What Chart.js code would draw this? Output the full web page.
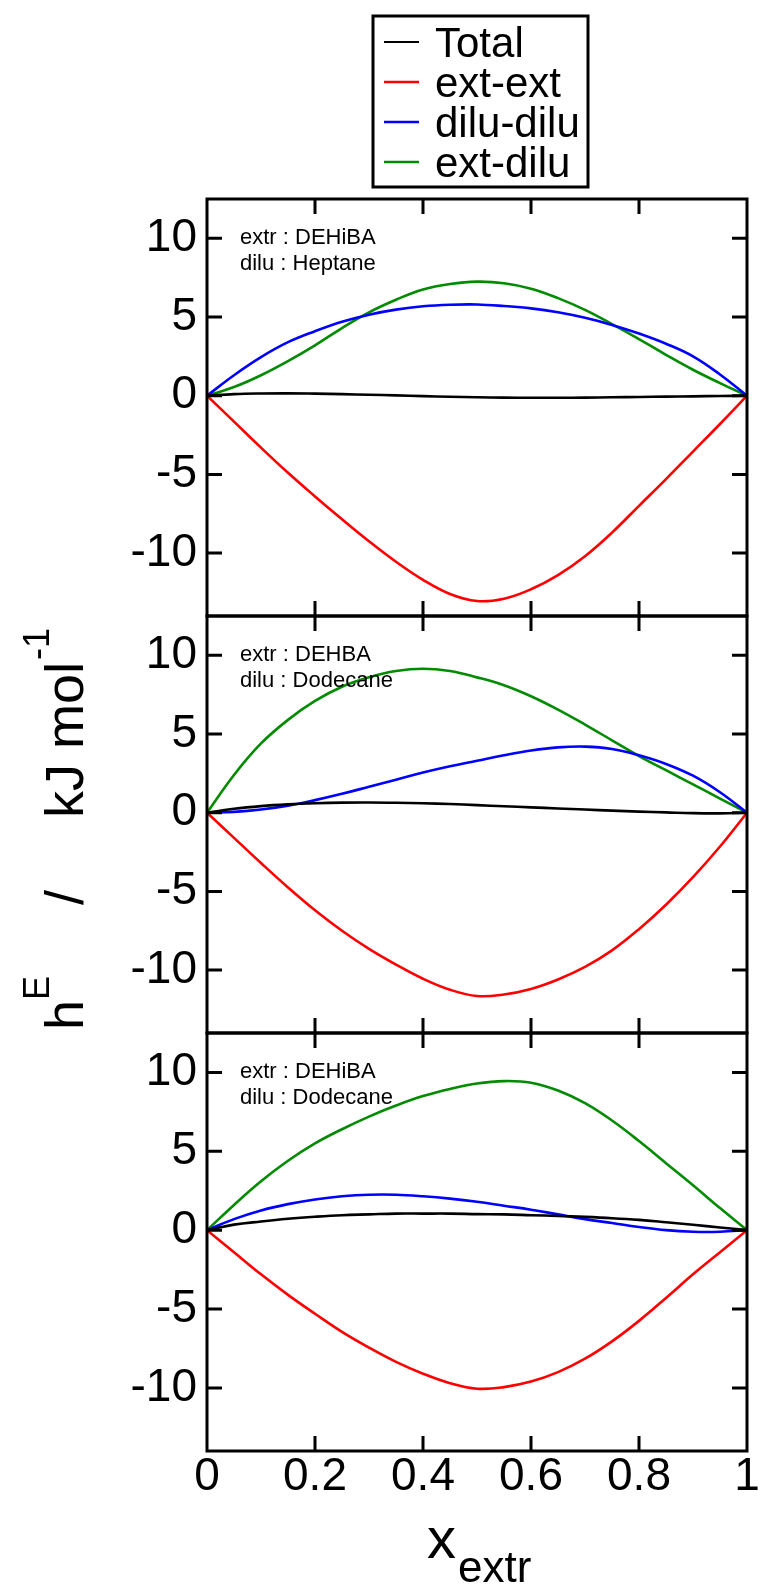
<!DOCTYPE html>
<html>
<head>
<meta charset="utf-8">
<script src="https://cdn.jsdelivr.net/npm/chart.js@4.4.1/dist/chart.umd.min.js"></script>
<style>
  html, body { margin: 0; padding: 0; background: #fff; }
  #wrap { position: relative; width: 758px; height: 1586px; }
  #wrap canvas { position: absolute; left: 0; top: 0; }
</style>
</head>
<body>
<div id="wrap">
  <canvas id="p1" width="758" height="1586"></canvas>
  <canvas id="p2" width="758" height="1586"></canvas>
  <canvas id="p3" width="758" height="1586"></canvas>
</div>
<script>
// h^E of extractant/diluent mixtures, three stacked panels sharing x_extr

const FONT = '"Liberation Sans", Arial, Helvetica, sans-serif';

const xs = [0, 0.05, 0.1, 0.15, 0.2, 0.25, 0.3, 0.35, 0.4, 0.45, 0.5,
            0.55, 0.6, 0.65, 0.7, 0.75, 0.8, 0.85, 0.9, 0.95, 1];

const seriesNames = ['Total', 'ext-ext', 'dilu-dilu', 'ext-dilu'];
const seriesColors = ['#000000', '#ff0000', '#0000ff', '#008b00'];

const xTicks = [0, 0.2, 0.4, 0.6, 0.8, 1];
const xTickLabels = ['0', '0.2', '0.4', '0.6', '0.8', '1'];
const yTicks = [-10, -5, 0, 5, 10];
const yTickLabels = ['-10', '-5', '0', '5', '10'];
const yMin = -14;
const yMax = 12.5;

// panel 1 : DEHiBA / Heptane
const notes1 = ['extr : DEHiBA', 'dilu : Heptane'];
const total1 = [0, 0.1, 0.14, 0.15, 0.13, 0.1, 0.06, 0.02, -0.03, -0.07, -0.1,
                -0.12, -0.13, -0.13, -0.12, -0.1, -0.08, -0.06, -0.04, -0.02, 0];
const extExt1 = [0, -1.65, -3.3, -4.9, -6.4, -7.85, -9.25, -10.55, -11.7, -12.6, -13.05,
                 -12.9, -12.3, -11.4, -10.2, -8.7, -7.0, -5.3, -3.55, -1.8, 0];
const diluDilu1 = [0, 1.3, 2.45, 3.4, 4.1, 4.7, 5.15, 5.47, 5.68, 5.78, 5.8,
                   5.7, 5.55, 5.3, 4.95, 4.5, 3.95, 3.3, 2.5, 1.35, 0];
const extDilu1 = [0, 0.55, 1.3, 2.2, 3.2, 4.3, 5.3, 6.1, 6.75, 7.1, 7.25,
                  7.15, 6.8, 6.2, 5.45, 4.55, 3.6, 2.6, 1.65, 0.8, 0];

// panel 2 : DEHBA / Dodecane
const notes2 = ['extr : DEHBA', 'dilu : Dodecane'];
const total2 = [0, 0.25, 0.42, 0.53, 0.6, 0.64, 0.65, 0.63, 0.6, 0.55, 0.48,
                0.41, 0.34, 0.27, 0.2, 0.13, 0.07, 0.02, -0.03, -0.04, 0];
const extExt2 = [0, -1.6, -3.2, -4.75, -6.2, -7.5, -8.65, -9.65, -10.55, -11.25, -11.65,
                 -11.55, -11.2, -10.6, -9.8, -8.75, -7.4, -5.85, -4.1, -2.15, 0];
const diluDilu2 = [0, 0.05, 0.2, 0.45, 0.8, 1.2, 1.65, 2.1, 2.55, 2.95, 3.3,
                   3.65, 3.95, 4.15, 4.2, 4.05, 3.65, 3.1, 2.35, 1.3, 0];
const extDilu2 = [0, 2.4, 4.4, 5.9, 7.1, 8.0, 8.6, 9.0, 9.15, 9.0, 8.6,
                  8.1, 7.4, 6.55, 5.6, 4.6, 3.6, 2.7, 1.8, 0.9, 0];

// panel 3 : DEHiBA / Dodecane
const notes3 = ['extr : DEHiBA', 'dilu : Dodecane'];
const total3 = [0, 0.35, 0.55, 0.72, 0.85, 0.95, 1.0, 1.05, 1.05, 1.05, 1.02,
                1.0, 0.95, 0.9, 0.84, 0.76, 0.65, 0.5, 0.34, 0.17, 0];
const extExt3 = [0, -1.4, -2.8, -4.1, -5.3, -6.45, -7.45, -8.35, -9.1, -9.7, -10.05,
                 -9.95, -9.6, -9.0, -8.15, -7.05, -5.75, -4.3, -2.8, -1.4, 0];
const diluDilu3 = [0, 0.7, 1.25, 1.65, 1.95, 2.15, 2.25, 2.25, 2.15, 2.0, 1.8,
                   1.55, 1.3, 1.0, 0.7, 0.45, 0.2, 0.0, -0.1, -0.1, 0];
const extDilu3 = [0, 1.6, 3.1, 4.4, 5.5, 6.4, 7.2, 7.9, 8.5, 8.95, 9.3,
                  9.45, 9.35, 8.85, 8.05, 6.95, 5.65, 4.25, 2.85, 1.4, 0];

const panels = [
  { id: 'p1', notes: notes1, series: [total1, extExt1, diluDilu1, extDilu1] },
  { id: 'p2', notes: notes2, series: [total2, extExt2, diluDilu2, extDilu2] },
  { id: 'p3', notes: notes3, series: [total3, extExt3, diluDilu3, extDilu3] },
];

// page geometry
const W = 758, H = 1586;
const AREA_LEFT = 207, AREA_RIGHT = 747;
const EDGES = [199, 616, 1033, 1451];
const TICK = 15;

const framePlugin = {
  id: 'frame',
  afterDatasetsDraw(chart) {
    const { ctx, chartArea: a } = chart;
    const sx = chart.scales.x, sy = chart.scales.y;
    ctx.save();
    ctx.strokeStyle = '#000';
    ctx.lineWidth = 3;
    ctx.strokeRect(a.left, a.top, a.right - a.left, a.bottom - a.top);
    ctx.beginPath();
    xTicks.slice(1, -1).forEach((v) => {
      const px = sx.getPixelForValue(v);
      ctx.moveTo(px, a.top); ctx.lineTo(px, a.top + TICK);
      ctx.moveTo(px, a.bottom); ctx.lineTo(px, a.bottom - TICK);
    });
    yTicks.forEach((v) => {
      const py = sy.getPixelForValue(v);
      ctx.moveTo(a.left, py); ctx.lineTo(a.left + TICK, py);
      ctx.moveTo(a.right, py); ctx.lineTo(a.right - TICK, py);
    });
    ctx.stroke();
    ctx.restore();
  },
};

const notesPlugin = {
  id: 'notes',
  afterDraw(chart, args, opts) {
    const { ctx, chartArea: a } = chart;
    ctx.save();
    ctx.fillStyle = '#000';
    ctx.font = `22px ${FONT}`;
    ctx.textBaseline = 'alphabetic';
    (opts.lines || []).forEach((t, i) => ctx.fillText(t, a.left + 33, a.top + 45 + i * 26));
    ctx.restore();
  },
};

// boxed legend above the first panel
const boxLegend = {
  id: 'boxLegend',
  afterDraw(chart) {
    const ctx = chart.ctx;
    ctx.save();
    ctx.strokeStyle = '#000';
    ctx.lineWidth = 3;
    ctx.strokeRect(373, 16, 215, 171);
    ctx.font = `42px ${FONT}`;
    ctx.fillStyle = '#000';
    chart.data.datasets.forEach((ds, i) => {
      const cy = 42 + i * 40;
      ctx.strokeStyle = ds.borderColor;
      ctx.lineWidth = i === 0 ? 2 : 2.5;
      ctx.beginPath();
      ctx.moveTo(384, cy); ctx.lineTo(419, cy);
      ctx.stroke();
      ctx.fillText(ds.label, 435, cy + 15);
    });
    ctx.restore();
  },
};

// axis titles with sub/superscripts
const axisTitles = {
  id: 'axisTitles',
  afterDraw(chart) {
    const ctx = chart.ctx;
    ctx.save();
    ctx.fillStyle = '#000';
    ctx.textBaseline = 'alphabetic';
    // x_extr
    ctx.font = `58px ${FONT}`;
    ctx.fillText('x', 427, 1558);
    ctx.font = `44px ${FONT}`;
    ctx.fillText('extr', 458, 1582);
    // h^E / kJ mol^-1, rotated
    ctx.translate(83, 1030);
    ctx.rotate(-Math.PI / 2);
    ctx.font = `54px ${FONT}`;
    ctx.fillText('h', 0, 0);
    ctx.font = `36px ${FONT}`;
    ctx.fillText('E', 30, -34);
    ctx.font = `54px ${FONT}`;
    ctx.fillText('/', 125, 0);
    ctx.fillText('kJ mol', 212, 0);
    const w = ctx.measureText('kJ mol').width;
    ctx.font = `36px ${FONT}`;
    ctx.fillText('-1', 212 + w + 2, -34);
    ctx.restore();
  },
};

function makeChart(i) {
  const p = panels[i];
  const last = i === panels.length - 1;
  const extra = [framePlugin, notesPlugin];
  if (i === 0) extra.push(boxLegend);
  if (last) extra.push(axisTitles);
  return new Chart(document.getElementById(p.id), {
    type: 'line',
    data: {
      datasets: p.series.map((vals, k) => ({
        label: seriesNames[k],
        data: xs.map((x, j) => ({ x, y: vals[j] })),
        borderColor: seriesColors[k],
        borderWidth: 2.6,
        pointRadius: 0,
        fill: false,
        tension: 0.4,
      })),
    },
    options: {
      responsive: false,
      animation: false,
      devicePixelRatio: 1,
      layout: {
        padding: { top: EDGES[i], left: 0, right: W - AREA_RIGHT, bottom: last ? 0 : H - EDGES[i + 1] },
      },
      plugins: {
        legend: { display: false },
        tooltip: { enabled: false },
        notes: { lines: p.notes },
      },
      scales: {
        x: {
          type: 'linear',
          min: 0,
          max: 1,
          display: last,
          grid: { display: false, drawTicks: false },
          border: { display: false },
          afterBuildTicks: (s) => { s.ticks = xTicks.map((v) => ({ value: v })); },
          afterFit: (s) => {
            if (!last) return;
            s.height = H - EDGES[3];
            s.paddingLeft = 0;
            s.paddingRight = 0;
          },
          ticks: {
            font: { family: FONT, size: 46, lineHeight: 1 },
            color: '#000',
            padding: 3,
            maxRotation: 0,
            autoSkip: false,
            callback: (v, idx) => xTickLabels[idx],
          },
        },
        y: {
          type: 'linear',
          min: yMin,
          max: yMax,
          grid: { display: false, drawTicks: false },
          border: { display: false },
          afterBuildTicks: (s) => { s.ticks = yTicks.map((v) => ({ value: v })); },
          afterFit: (s) => {
            s.width = AREA_LEFT;
            s.paddingTop = 0;
            s.paddingBottom = 0;
          },
          ticks: {
            font: { family: FONT, size: 46, lineHeight: 1 },
            color: '#000',
            padding: 10,
            autoSkip: false,
            callback: (v, idx) => yTickLabels[idx],
          },
        },
      },
    },
    plugins: extra,
  });
}

panels.forEach((p, i) => makeChart(i));
</script>
</body>
</html>
